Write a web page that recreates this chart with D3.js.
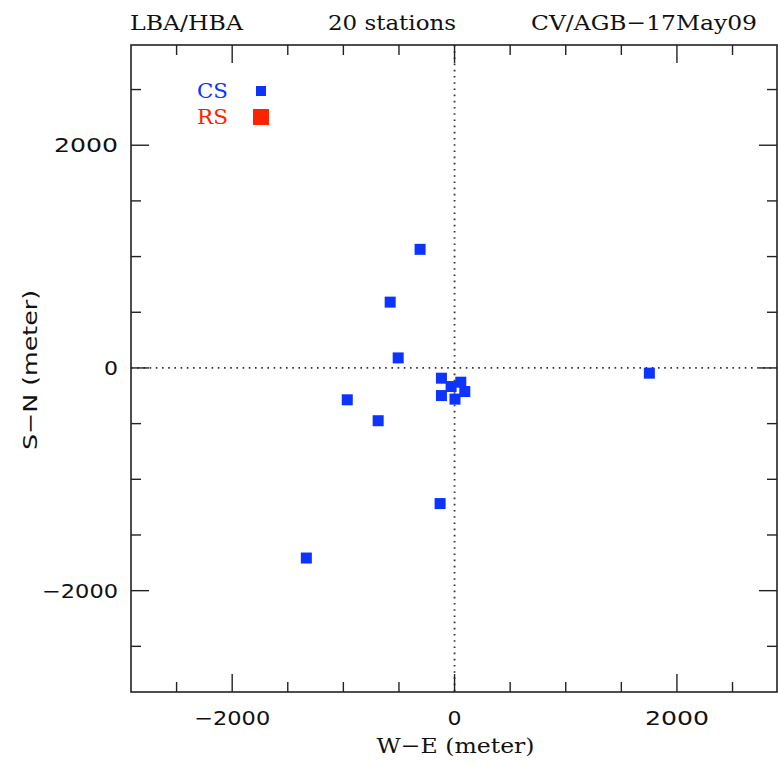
<!DOCTYPE html>
<html>
<head>
<meta charset="utf-8">
<script src="https://cdn.jsdelivr.net/npm/d3@7"></script>
<style>
  body { margin: 0; background: #fff; }
  svg { display: block; }
</style>
</head>
<body>
<svg id="chart"></svg>
<script>
// station offsets in metres (W-E, S-N)
const csWE = [-310, -579, -507, -965, -687, -118, -31, 56, 92, -118, 4, -130, -1333, 1752];
const csSN = [1065, 591, 90, -286, -474, -92, -167, -128, -212, -248, -280, -1218, -1707, -47];
const majorTicks = [-2000, 0, 2000];
const minorTicks = d3.range(-2500, 2501, 500);
const titles = ['LBA/HBA', '20 stations', 'CV/AGB-17May09'];
const legendNames = ['CS', 'RS'];

const width = 778, height = 765;
const margin = { top: 45, right: 1, bottom: 73, left: 131 };
const serif = '"DejaVu Serif", "Liberation Serif", serif';
const sans = '"DejaVu Sans", "Liberation Sans", sans-serif';
const blue = '#0d33ff', red = '#ff2200';

const svg = d3.select('#chart').attr('width', width).attr('height', height);

const x = d3.scaleLinear().domain([-2910, 2900]).range([margin.left, width - margin.right]);
const y = d3.scaleLinear().domain([-2910, 2900]).range([height - margin.bottom, margin.top]);

const g = svg.append('g');

// zero lines (dotted)
g.append('line')
    .attr('x1', x(0)).attr('x2', x(0))
    .attr('y1', y.range()[1]).attr('y2', y.range()[0])
    .attr('stroke', '#333').attr('stroke-width', 1.8).attr('stroke-dasharray', '1.6,4.6');
g.append('line')
    .attr('x1', x.range()[0]).attr('x2', x.range()[1])
    .attr('y1', y(0)).attr('y2', y(0))
    .attr('stroke', '#333').attr('stroke-width', 1.8).attr('stroke-dasharray', '1.6,4.6');

// frame
g.append('rect')
    .attr('x', x.range()[0]).attr('y', y.range()[1])
    .attr('width', x.range()[1] - x.range()[0])
    .attr('height', y.range()[0] - y.range()[1])
    .attr('fill', 'none').attr('stroke', '#222').attr('stroke-width', 1.6);

// ticks pointing inward on all four sides
const tickLen = (d) => (majorTicks.includes(d) ? 18 : 10);
const xTop = y.range()[1], xBot = y.range()[0];
const yLeft = x.range()[0], yRight = x.range()[1];

g.selectAll('.xt-b').data(minorTicks).enter().append('line')
    .attr('x1', (d) => x(d)).attr('x2', (d) => x(d))
    .attr('y1', xBot).attr('y2', (d) => xBot - tickLen(d))
    .attr('stroke', '#222').attr('stroke-width', 1.4);
g.selectAll('.xt-t').data(minorTicks).enter().append('line')
    .attr('x1', (d) => x(d)).attr('x2', (d) => x(d))
    .attr('y1', xTop).attr('y2', (d) => xTop + tickLen(d))
    .attr('stroke', '#222').attr('stroke-width', 1.4);
g.selectAll('.yt-l').data(minorTicks).enter().append('line')
    .attr('y1', (d) => y(d)).attr('y2', (d) => y(d))
    .attr('x1', yLeft).attr('x2', (d) => yLeft + tickLen(d))
    .attr('stroke', '#222').attr('stroke-width', 1.4);
g.selectAll('.yt-r').data(minorTicks).enter().append('line')
    .attr('y1', (d) => y(d)).attr('y2', (d) => y(d))
    .attr('x1', yRight).attr('x2', (d) => yRight - tickLen(d))
    .attr('stroke', '#222').attr('stroke-width', 1.4);

// tick labels (the plotting font is wide, so stretch glyphs to the measured widths)
const fmt = (d) => (d < 0 ? '\u2212' + Math.abs(d) : String(d));
const labelLen = (d) => (d === 0 ? 14 : d < 0 ? 76 : 64);
g.selectAll('.xl').data(majorTicks).enter().append('text')
    .attr('x', (d) => x(d)).attr('y', 725)
    .attr('text-anchor', 'middle')
    .attr('font-family', sans).attr('font-size', 20)
    .attr('textLength', labelLen).attr('lengthAdjust', 'spacingAndGlyphs')
    .attr('fill', '#111')
    .text(fmt);
g.selectAll('.yl').data(majorTicks).enter().append('text')
    .attr('x', 118).attr('y', (d) => y(d) + 7)
    .attr('text-anchor', 'end')
    .attr('font-family', sans).attr('font-size', 20)
    .attr('textLength', labelLen).attr('lengthAdjust', 'spacingAndGlyphs')
    .attr('fill', '#111')
    .text(fmt);

// axis titles
svg.append('text')
    .attr('x', x(0) + 1).attr('y', 753)
    .attr('text-anchor', 'middle')
    .attr('font-family', serif).attr('font-size', 21)
    .attr('textLength', 158).attr('lengthAdjust', 'spacingAndGlyphs')
    .attr('fill', '#111')
    .text('W\u2212E (meter)');
svg.append('text')
    .attr('transform', `translate(37,${y(0) + 2}) rotate(-90)`)
    .attr('text-anchor', 'middle')
    .attr('font-family', sans).attr('font-size', 20)
    .attr('textLength', 160).attr('lengthAdjust', 'spacingAndGlyphs')
    .attr('fill', '#111')
    .text('S\u2212N (meter)');

// header line
const titleX = [130, 328, 531];
const titleLen = [113, 128, 226];
svg.selectAll('.title').data(titles).enter().append('text')
    .attr('x', (d, i) => titleX[i]).attr('y', 30)
    .attr('font-family', serif).attr('font-size', 21)
    .attr('textLength', (d, i) => titleLen[i]).attr('lengthAdjust', 'spacingAndGlyphs')
    .attr('fill', '#111')
    .text((d) => d.replace('-', '\u2212'));

// legend
const legendColor = [blue, red];
const legendSize = [10, 16];
const legendY = [91, 117];
svg.selectAll('.leg-t').data(legendNames).enter().append('text')
    .attr('x', 197).attr('y', (d, i) => legendY[i] + 7)
    .attr('font-family', serif).attr('font-size', 21)
    .attr('textLength', 31).attr('lengthAdjust', 'spacingAndGlyphs')
    .attr('fill', (d, i) => legendColor[i])
    .text((d) => d);
svg.selectAll('.leg-m').data(legendNames).enter().append('rect')
    .attr('x', (d, i) => 261 - legendSize[i] / 2)
    .attr('y', (d, i) => legendY[i] - legendSize[i] / 2)
    .attr('width', (d, i) => legendSize[i])
    .attr('height', (d, i) => legendSize[i])
    .attr('fill', (d, i) => legendColor[i]);

// CS stations
const sq = 11;
g.selectAll('.cs').data(csWE).enter().append('rect')
    .attr('x', (d) => x(d) - sq / 2)
    .attr('y', (d, i) => y(csSN[i]) - sq / 2)
    .attr('width', sq).attr('height', sq)
    .attr('fill', blue);
</script>
</body>
</html>
